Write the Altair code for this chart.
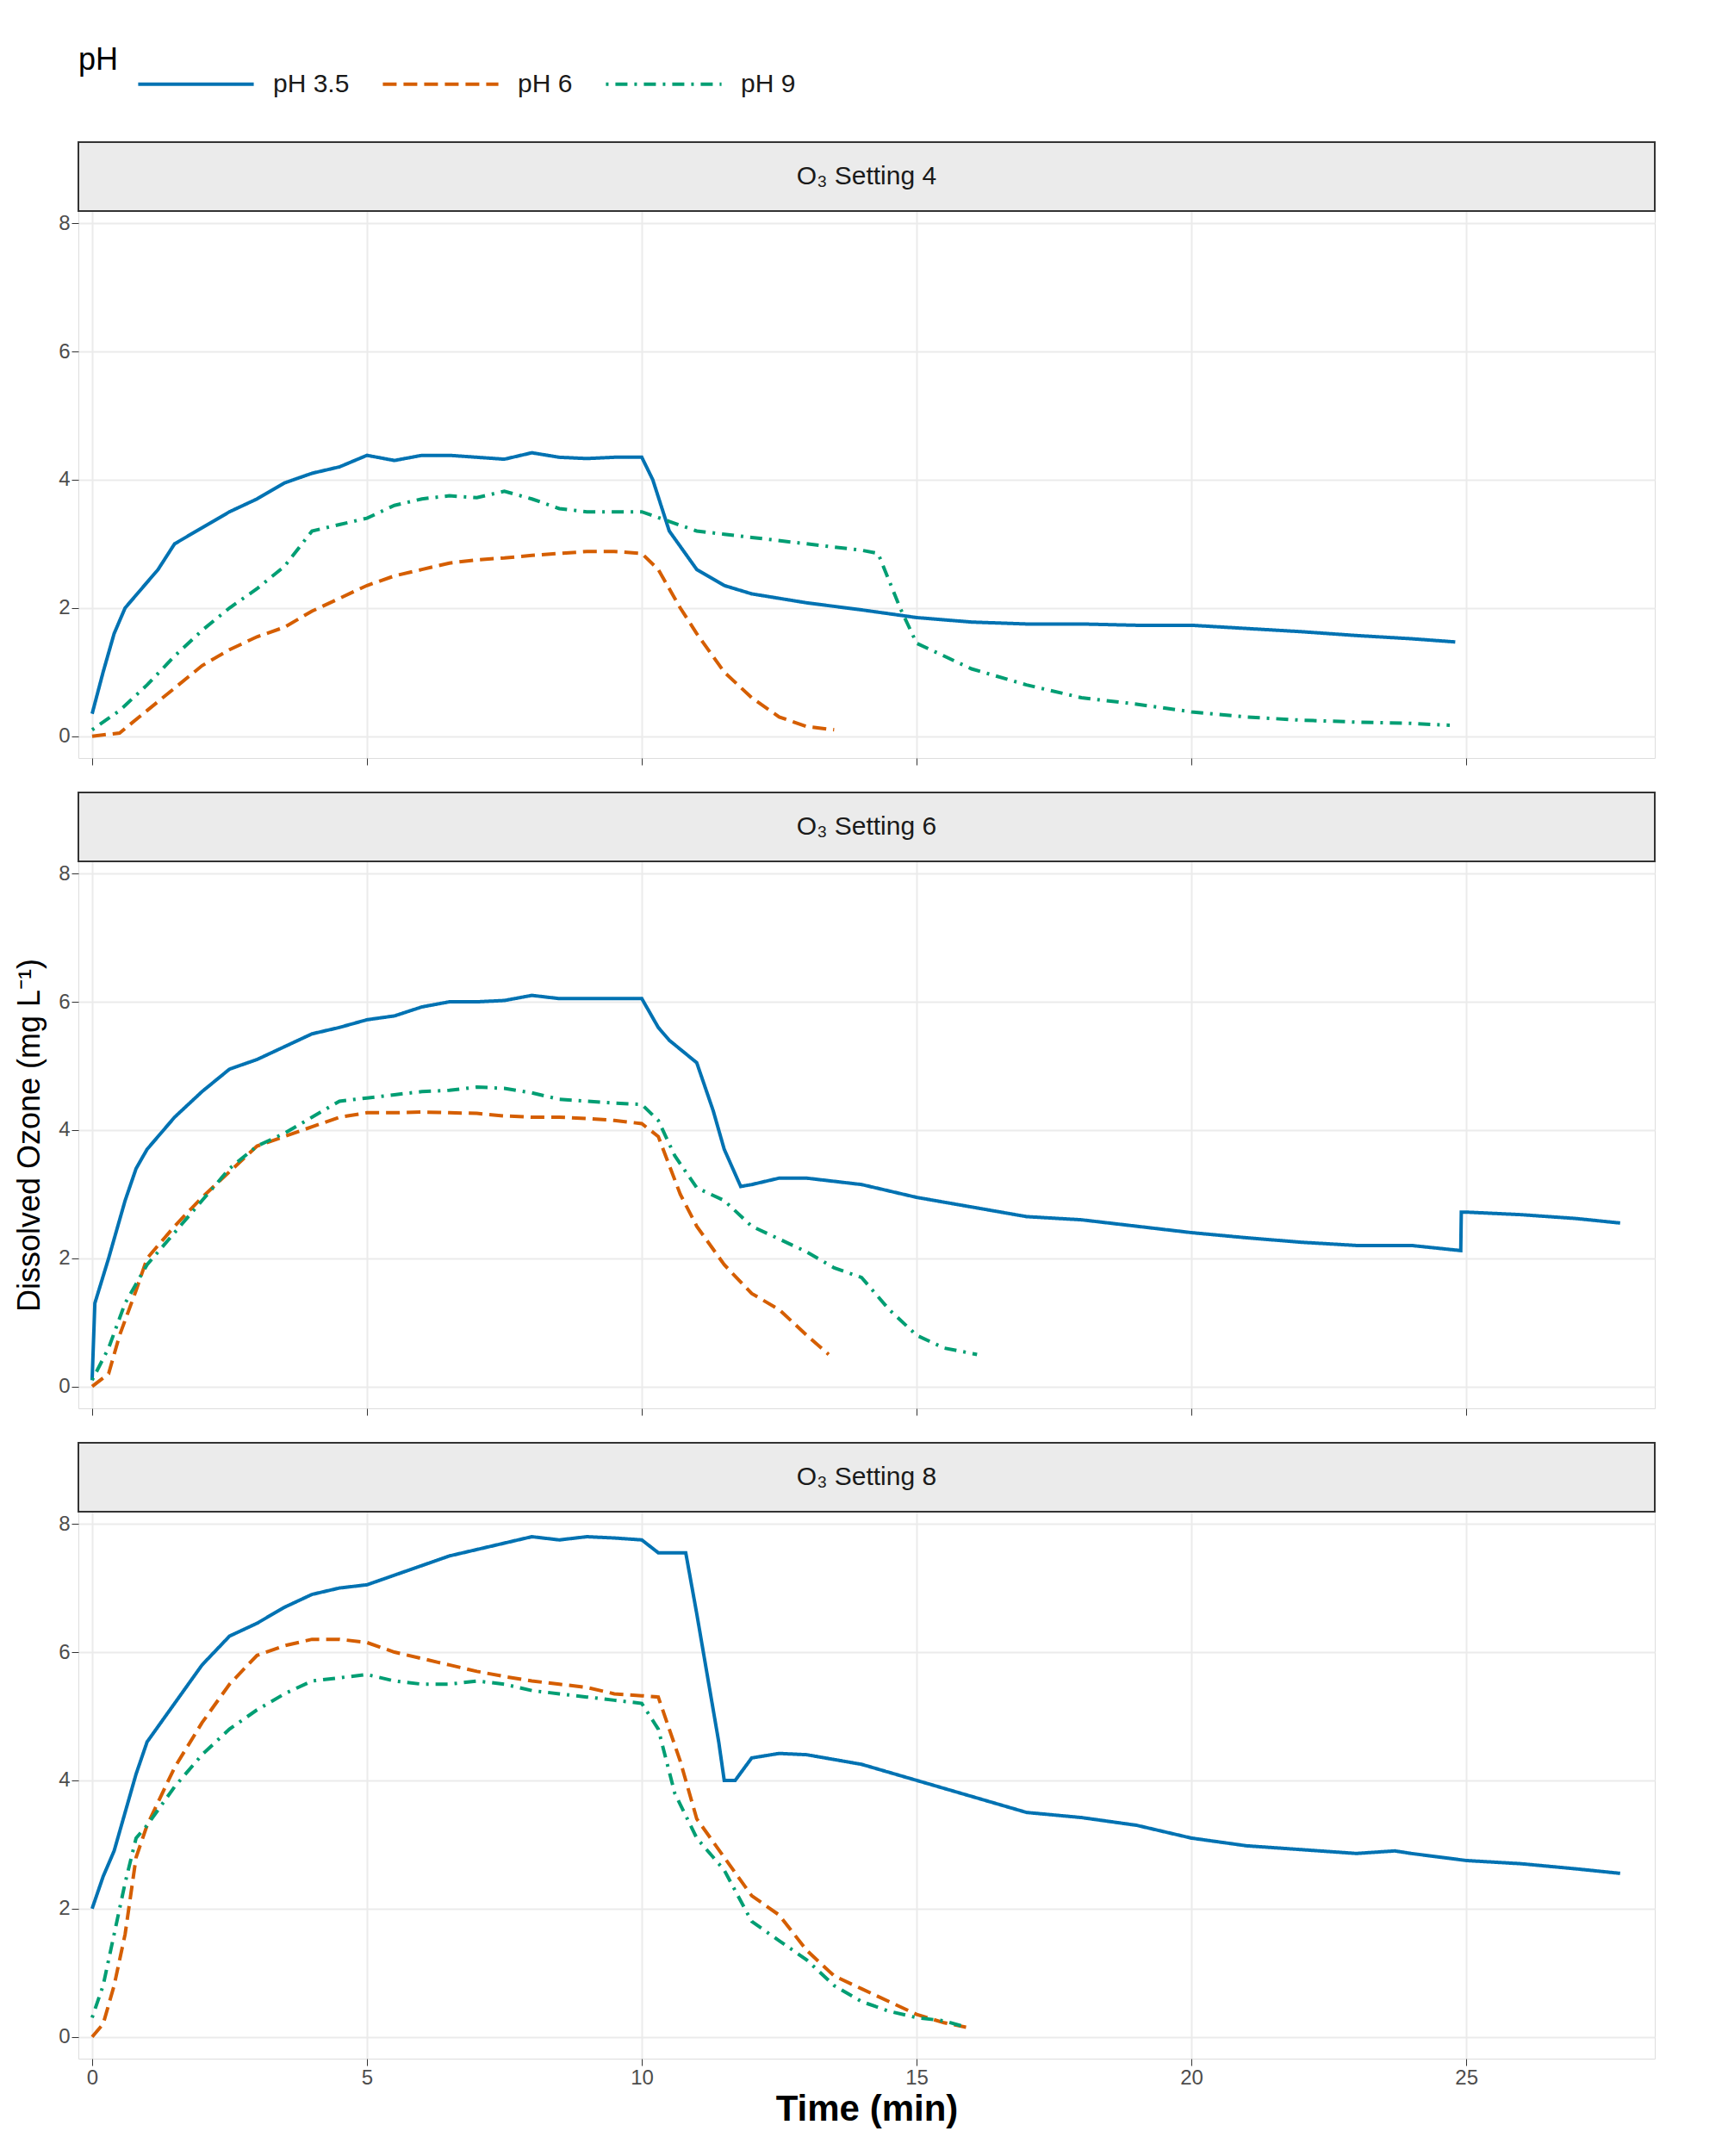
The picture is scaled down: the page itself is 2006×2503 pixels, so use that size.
import altair as alt
import pandas as pd

s4_a_t=[0,0.2,0.4,0.6,0.8,1,1.2,1.5,2,2.5,3,3.5,4,4.5,5,5.5,6,6.5,7,7.5,8,8.5,9,9.5,10,10.2,10.5,11,11.5,12,13,14,15,16,17,18,19,20,21,22,23,24,24.8]
s4_a_v=[0.35,1.0,1.6,2.0,2.2,2.4,2.6,3.0,3.25,3.5,3.7,3.95,4.1,4.2,4.38,4.3,4.38,4.38,4.35,4.32,4.42,4.35,4.33,4.35,4.35,4.0,3.2,2.6,2.35,2.22,2.08,1.97,1.85,1.78,1.75,1.75,1.73,1.73,1.68,1.63,1.57,1.52,1.47]
s4_b_t=[0,0.5,1,1.5,2,2.5,3,3.5,4,4.5,5,5.5,6,6.5,7,7.5,8,8.5,9,9.5,10,10.3,10.7,11,11.5,12,12.5,13,13.5]
s4_b_v=[0,0.05,0.4,0.75,1.1,1.35,1.55,1.7,1.95,2.15,2.35,2.5,2.6,2.7,2.75,2.78,2.82,2.85,2.88,2.88,2.85,2.6,2.0,1.6,1.0,0.6,0.3,0.15,0.1]
s4_c_t=[0,0.5,1,1.5,2,2.5,3,3.5,4,4.5,5,5.5,6,6.5,7,7.5,8,8.5,9,9.5,10,10.5,11,11.5,12,13,14,14.3,14.7,15,16,17,18,19,20,21,22,23,24,24.7]
s4_c_v=[0.1,0.4,0.8,1.25,1.65,2.0,2.3,2.65,3.2,3.3,3.4,3.6,3.7,3.75,3.72,3.82,3.7,3.55,3.5,3.5,3.5,3.35,3.2,3.15,3.1,3.0,2.9,2.85,2.0,1.45,1.05,0.8,0.6,0.5,0.38,0.3,0.25,0.22,0.2,0.17]

s6_a_t=[0,0.05,0.3,0.6,0.8,1,1.5,2,2.5,3,3.5,4,4.5,5,5.5,6,6.5,7,7.5,8,8.5,9,9.5,10,10.3,10.5,11,11.3,11.5,11.8,12,12.5,13,14,15,16,17,18,19,20,21,22,23,24,24.9,24.91,25,26,27,27.8]
s6_a_v=[0.1,1.3,2.0,2.9,3.4,3.7,4.2,4.6,4.95,5.1,5.3,5.5,5.6,5.72,5.78,5.92,6.0,6.0,6.02,6.1,6.05,6.05,6.05,6.05,5.6,5.4,5.05,4.3,3.7,3.12,3.15,3.25,3.25,3.15,2.95,2.8,2.65,2.6,2.5,2.4,2.32,2.25,2.2,2.2,2.12,2.72,2.72,2.68,2.62,2.55]
s6_b_t=[0,0.3,0.5,0.8,1,1.5,2,2.5,3,3.5,4,4.5,5,5.5,6,6.5,7,7.5,8,8.5,9,9.5,10,10.3,10.7,11,11.5,12,12.5,13,13.4]
s6_b_v=[0,0.2,0.8,1.5,2.0,2.5,2.95,3.35,3.75,3.9,4.05,4.2,4.27,4.27,4.28,4.27,4.26,4.22,4.2,4.2,4.18,4.15,4.1,3.9,3.0,2.5,1.9,1.45,1.2,0.8,0.5]
s6_c_t=[0,0.3,0.6,1,1.5,2,2.5,3,3.5,4,4.5,5,5.5,6,6.5,7,7.5,8,8.5,9,9.5,10,10.3,10.6,11,11.5,12,12.5,13,13.5,14,14.5,15,15.5,16.1]
s6_c_v=[0.1,0.6,1.3,1.9,2.4,2.9,3.4,3.75,3.95,4.2,4.45,4.5,4.55,4.6,4.62,4.67,4.65,4.58,4.48,4.45,4.42,4.4,4.15,3.6,3.1,2.9,2.5,2.3,2.1,1.85,1.7,1.2,0.8,0.6,0.5]

s8_a_t=[0,0.2,0.4,0.6,0.8,1,1.5,2,2.5,3,3.5,4,4.5,5,5.5,6,6.5,7,7.5,8,8.5,9,9.5,10,10.3,10.8,11,11.2,11.4,11.5,11.7,12,12.5,13,14,15,16,17,18,19,20,21,22,23,23.7,24,25,26,27,27.8]
s8_a_v=[2.0,2.5,2.9,3.5,4.1,4.6,5.2,5.8,6.25,6.45,6.7,6.9,7.0,7.05,7.2,7.35,7.5,7.6,7.7,7.8,7.75,7.8,7.78,7.75,7.55,7.55,6.6,5.6,4.6,4.0,4.0,4.35,4.42,4.4,4.25,4.0,3.75,3.5,3.42,3.3,3.1,2.98,2.92,2.86,2.9,2.86,2.75,2.7,2.62,2.55]
s8_b_t=[0,0.2,0.4,0.6,0.8,1,1.5,2,2.5,3,3.5,4,4.5,5,5.5,6,6.5,7,7.5,8,8.5,9,9.5,10,10.3,10.7,11,11.5,12,12.5,13,13.5,14,14.5,15,15.5,15.9]
s8_b_v=[0,0.2,0.8,1.6,2.8,3.3,4.2,4.9,5.5,5.95,6.1,6.2,6.2,6.15,6.0,5.9,5.8,5.7,5.62,5.55,5.5,5.45,5.35,5.32,5.3,4.3,3.4,2.8,2.2,1.9,1.35,0.95,0.75,0.55,0.35,0.22,0.15]
s8_c_t=[0,0.2,0.4,0.6,0.8,1,1.5,2,2.5,3,3.5,4,4.5,5,5.5,6,6.5,7,7.5,8,8.5,9,9.5,10,10.3,10.6,11,11.5,12,12.5,13,13.5,14,14.5,15,15.5,15.9]
s8_c_v=[0.3,0.8,1.6,2.4,3.1,3.3,3.9,4.4,4.8,5.1,5.35,5.55,5.6,5.65,5.55,5.5,5.5,5.55,5.5,5.4,5.35,5.3,5.25,5.2,4.8,3.8,3.1,2.6,1.8,1.5,1.2,0.8,0.55,0.4,0.3,0.25,0.15]

ph_levels=["pH 3.5","pH 6","pH 9"]
colors=["#0072B2","#D55E00","#009E73"]
dashes=[[1,0],[16,8],[3,8,14,8]]
settings=["4","6","8"]
series={"4":[(s4_a_t,s4_a_v),(s4_b_t,s4_b_v),(s4_c_t,s4_c_v)],
        "6":[(s6_a_t,s6_a_v),(s6_b_t,s6_b_v),(s6_c_t,s6_c_v)],
        "8":[(s8_a_t,s8_a_v),(s8_b_t,s8_b_v),(s8_c_t,s8_c_v)]}

W,H,S=1830,635,80
ytitle="Dissolved Ozone (mg L\u207b\u00b9)"
leg=alt.Legend(orient="top",direction="horizontal",titleOrient="left",titleFontSize=36,titleFontWeight="normal",
    titleColor="black",labelFontSize=30,labelColor="#1A1A1A",symbolType="stroke",symbolSize=18000,
    symbolStrokeWidth=4,columnPadding=30,labelOffset=20,offset=50,titleAnchor="middle",titlePadding=20)
panels=[]
for i,s in enumerate(settings):
    rows=[]
    for ph,(ts,vs) in zip(ph_levels,series[s]):
        for k,(t,v) in enumerate(zip(ts,vs)):
            rows.append({"t":t,"v":v,"ph":ph,"k":k})
    df=pd.DataFrame(rows)
    last=(i==2)
    xaxis=alt.Axis(values=[0,5,10,15,20,25],labels=last,title="Time (min)" if last else None,
                   labelFontSize=24,titleFontSize=42,titleFontWeight="bold",titleColor="black",
                   labelColor="#4D4D4D",tickColor="#333",gridColor="#EBEBEB",gridWidth=2,domain=False,tickSize=8)
    yaxis=alt.Axis(values=[0,2,4,6,8],title=ytitle,titleOpacity=1 if i==1 else 0,
                   labelFontSize=24,titleFontSize=36,titleFontWeight="normal",titleColor="black",
                   labelColor="#4D4D4D",tickColor="#333",gridColor="#EBEBEB",gridWidth=2,domain=False,tickSize=8,titlePadding=14)
    line=alt.Chart(df).mark_line(strokeWidth=4,clip=True).encode(
        x=alt.X("t:Q",scale=alt.Scale(domain=[-0.25,28.43],nice=False,zero=False),axis=xaxis),
        y=alt.Y("v:Q",scale=alt.Scale(domain=[-0.34,8.19],nice=False,zero=False),axis=yaxis),
        color=alt.Color("ph:N",scale=alt.Scale(domain=ph_levels,range=colors),title="pH",legend=leg),
        strokeDash=alt.StrokeDash("ph:N",scale=alt.Scale(domain=ph_levels,range=dashes),title="pH",legend=leg),
        order="k:Q")
    lab=pd.DataFrame({"lab":["O\u2083 Setting "+s]})
    strip=alt.Chart(lab).mark_rect(fill="#EBEBEB",stroke="#333333",strokeWidth=2,clip=False).encode(
        x=alt.value(0),x2=alt.value(W),y=alt.value(-S),y2=alt.value(0))
    stext=alt.Chart(lab).mark_text(fontSize=30,color="#1A1A1A",clip=False).encode(
        x=alt.value(W/2),y=alt.value(-S/2),text="lab:N")
    panels.append(alt.layer(line,strip,stext).properties(width=W,height=H))

chart=alt.vconcat(*panels,spacing=29).configure_view(stroke="#333333",strokeWidth=2
).configure(font="Liberation Sans").properties(padding={"top":20,"left":8,"right":10,"bottom":8})
chart.save("out.html",embed_options={"renderer":"svg","actions":False})
